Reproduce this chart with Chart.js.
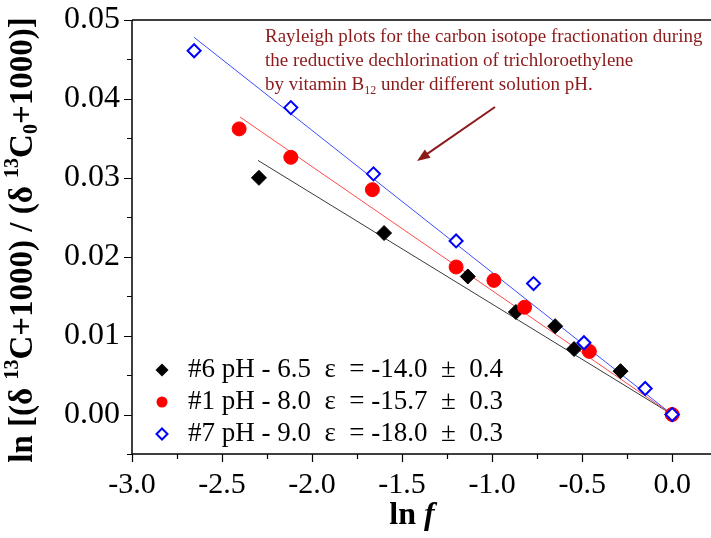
<!DOCTYPE html>
<html>
<head>
<meta charset="utf-8">
<script src="https://cdn.jsdelivr.net/npm/chart.js@4.4.1/dist/chart.umd.min.js"></script>
<style>
html,body{margin:0;padding:0;background:#fff;overflow:hidden;}
canvas{display:block;}
</style>
</head>
<body>
<canvas id="c" width="711" height="538"></canvas>
<script>
// ---- data ----
const xTickValues = [-3.0, -2.5, -2.0, -1.5, -1.0, -0.5, 0.0];
const yTickValues = [0.00, 0.01, 0.02, 0.03, 0.04, 0.05];

// #6 pH 6.5 (black diamonds)
const lnF6 = [-2.295, -1.600, -1.135, -0.868, -0.650, -0.545, -0.287, 0.0];
const lnR6 = [0.0300, 0.0230, 0.0175, 0.0130, 0.0112, 0.0083, 0.0055, 0.0];
// #1 pH 8.0 (red circles)
const lnF1 = [-2.405, -2.118, -1.665, -1.200, -0.990, -0.820, -0.460, 0.0];
const lnR1 = [0.0362, 0.0326, 0.0285, 0.0187, 0.0170, 0.0136, 0.0080, 0.0];
// #7 pH 9.0 (blue open diamonds)
const lnF7 = [-2.655, -2.118, -1.659, -1.200, -0.770, -0.490, -0.150, 0.0];
const lnR7 = [0.0461, 0.0389, 0.0305, 0.0220, 0.0166, 0.0091, 0.0033, 0.0];

// fitted Rayleigh lines (end points)
const fit6X = [-2.30, 0.0];  const fit6Y = [0.0322, 0.0];
const fit1X = [-2.40, 0.0];  const fit1Y = [0.0377, 0.0];
const fit7X = [-2.655, 0.0]; const fit7Y = [0.0478, 0.0];

const seriesLabels = [
  '#6 pH - 6.5  \u03b5  = -14.0  \u00b1  0.4',
  '#1 pH - 8.0  \u03b5  = -15.7  \u00b1  0.3',
  '#7 pH - 9.0  \u03b5  = -18.0  \u00b1  0.3'
];
const noteLines = [
  'Rayleigh plots for the carbon isotope fractionation during',
  'the reductive dechlorination of trichloroethylene',
  'by vitamin B'
];
const noteSub = '12';
const noteTail = ' under different solution pH.';

function zip(xs, ys){ return xs.map((x,i)=>({x:x, y:ys[i]})); }

const SERIF = "'Liberation Serif', 'Times New Roman', serif";
const NOTE_COLOR = '#8b1a1a';

function richText(ctx, segs, x, y, align){
  let total = 0;
  segs.forEach(s=>{ ctx.font = s.font; s.w = ctx.measureText(s.t).width; total += s.w; });
  let cx = align === 'center' ? x - total/2 : x;
  segs.forEach(s=>{ ctx.font = s.font; ctx.fillText(s.t, cx, y + (s.dy||0)); cx += s.w; });
}

const decor = {
  id:'decor',
  afterDraw(chart){
    const ctx = chart.ctx;
    const a = chart.chartArea;
    const xs = chart.scales.x, ys = chart.scales.y;
    ctx.save();
    // frame
    ctx.strokeStyle = '#000';
    ctx.lineWidth = 1.5;
    ctx.beginPath();
    ctx.moveTo(a.left, a.top); ctx.lineTo(a.right+2, a.top);
    ctx.moveTo(a.left, a.top); ctx.lineTo(a.left, a.bottom);
    ctx.moveTo(a.left, a.bottom); ctx.lineTo(a.right+2, a.bottom);
    ctx.stroke();
    // ticks
    ctx.lineWidth = 1.2;
    ctx.beginPath();
    for (let v = -3.0; v <= 0.001; v += 0.25){
      const px = Math.round(xs.getPixelForValue(v)) + 0.5;
      const major = Math.abs(v*2 - Math.round(v*2)) < 1e-6;
      ctx.moveTo(px, a.bottom); ctx.lineTo(px, a.bottom + (major ? 8 : 5));
    }
    for (let k = -1; k <= 10; k++){
      const v = k*0.005;
      const py = Math.round(ys.getPixelForValue(v)) + 0.5;
      const major = k % 2 === 0;
      ctx.moveTo(a.left, py); ctx.lineTo(a.left - (major ? 8 : 5), py);
    }
    ctx.stroke();

    // axis titles
    ctx.fillStyle = '#000';
    ctx.textBaseline = 'middle';
    const B = 'bold 33px ' + SERIF, BS = 'bold 20px ' + SERIF;
    ctx.save();
    ctx.translate(23, 240);
    ctx.rotate(-Math.PI/2);
    richText(ctx, [
      {t:'ln [(\u03b4 ', font:B},
      {t:'13', font:BS, dy:-10},
      {t:'C+1000) / (\u03b4 ', font:B},
      {t:'13', font:BS, dy:-10},
      {t:'C', font:B},
      {t:'0', font:BS, dy:9},
      {t:'+1000)]', font:B}
    ], 0, 0, 'center');
    ctx.restore();
    richText(ctx, [
      {t:'ln ', font:'bold 32px ' + SERIF},
      {t:'f', font:'italic bold 32px ' + SERIF}
    ], 412, 516, 'center');

    // legend
    const legY = [370, 402, 434];
    const mx = 162;
    ctx.fillStyle = '#000';
    ctx.beginPath();
    ctx.moveTo(mx, legY[0]-6.5); ctx.lineTo(mx+6.5, legY[0]); ctx.lineTo(mx, legY[0]+6.5); ctx.lineTo(mx-6.5, legY[0]); ctx.closePath();
    ctx.fill();
    ctx.fillStyle = '#ff0000';
    ctx.beginPath(); ctx.arc(mx, legY[1], 5.5, 0, Math.PI*2); ctx.fill();
    ctx.strokeStyle = '#0000ff'; ctx.lineWidth = 2;
    ctx.beginPath();
    ctx.moveTo(mx, legY[2]-5.5); ctx.lineTo(mx+5.5, legY[2]); ctx.lineTo(mx, legY[2]+5.5); ctx.lineTo(mx-5.5, legY[2]); ctx.closePath();
    ctx.stroke();
    ctx.fillStyle = '#000';
    ctx.font = '27px ' + SERIF;
    ctx.textAlign = 'left';
    seriesLabels.forEach((t,i)=>{ ctx.fillText(t, 188, legY[i]); });

    // annotation
    ctx.fillStyle = NOTE_COLOR;
    ctx.font = '19px ' + SERIF;
    ctx.textBaseline = 'alphabetic';
    ctx.fillText(noteLines[0], 265, 42);
    ctx.fillText(noteLines[1], 265, 66);
    richText(ctx, [
      {t:noteLines[2], font:'19px ' + SERIF},
      {t:noteSub, font:'12px ' + SERIF, dy:4},
      {t:noteTail, font:'19px ' + SERIF}
    ], 265, 90, 'left');

    // arrow
    const x0 = 495, y0 = 107, x1 = 417, y1 = 161;
    const ang = Math.atan2(y1-y0, x1-x0);
    ctx.strokeStyle = NOTE_COLOR; ctx.lineWidth = 2;
    ctx.beginPath();
    ctx.moveTo(x0, y0);
    ctx.lineTo(x1 - 8*Math.cos(ang), y1 - 8*Math.sin(ang));
    ctx.stroke();
    ctx.fillStyle = NOTE_COLOR;
    ctx.beginPath();
    ctx.moveTo(x1, y1);
    ctx.lineTo(x1 - 13*Math.cos(ang) + 5*Math.sin(ang), y1 - 13*Math.sin(ang) - 5*Math.cos(ang));
    ctx.lineTo(x1 - 13*Math.cos(ang) - 5*Math.sin(ang), y1 - 13*Math.sin(ang) + 5*Math.cos(ang));
    ctx.closePath();
    ctx.fill();
    ctx.restore();
  }
};

new Chart(document.getElementById('c').getContext('2d'), {
  type: 'scatter',
  data: {
    datasets: [
      {label:'fit #6', data: zip(fit6X, fit6Y), showLine:true, borderColor:'#3a3a3a', borderWidth:1, pointRadius:0, order:6},
      {label:'fit #1', data: zip(fit1X, fit1Y), showLine:true, borderColor:'#ff4a4a', borderWidth:1, pointRadius:0, order:5},
      {label:'fit #7', data: zip(fit7X, fit7Y), showLine:true, borderColor:'#3b4cff', borderWidth:1, pointRadius:0, order:4},
      {label:seriesLabels[0], data: zip(lnF6, lnR6), pointStyle:'rectRot', pointRadius:7.5, backgroundColor:'#000', borderColor:'#000', borderWidth:1, order:3},
      {label:seriesLabels[1], data: zip(lnF1, lnR1), pointStyle:'circle', pointRadius:7, backgroundColor:'#ff0000', borderColor:'#ff0000', borderWidth:1, order:2},
      {label:seriesLabels[2], data: zip(lnF7, lnR7), pointStyle:'rectRot', pointRadius:6.5, backgroundColor:'#ffffff', borderColor:'#0000ff', borderWidth:2, order:1}
    ]
  },
  options: {
    responsive:false,
    animation:false,
    devicePixelRatio:1,
    layout:{autoPadding:false, padding:{top:20, right:1, left:0, bottom:0}},
    plugins:{legend:{display:false}, tooltip:{enabled:false}},
    scales:{
      x:{
        type:'linear', min:-3.0, max:0.21,
        afterBuildTicks:(s)=>{ s.ticks = xTickValues.map(v=>({value:v})); },
        afterFit:(s)=>{ s.height = 84; s.paddingLeft = 0; s.paddingRight = 0; },
        grid:{display:true, drawOnChartArea:false, drawTicks:false},
        border:{display:false},
        ticks:{font:{family:SERIF, size:30}, color:'#000', padding:13, maxRotation:0, autoSkip:false,
               callback:(v)=>Number(v).toFixed(1)}
      },
      y:{
        type:'linear', min:-0.005, max:0.05,
        afterBuildTicks:(s)=>{ s.ticks = yTickValues.map(v=>({value:v})); },
        afterFit:(s)=>{ s.width = 132; s.paddingTop = 0; s.paddingBottom = 0; },
        grid:{display:true, drawOnChartArea:false, drawTicks:false},
        border:{display:false},
        ticks:{font:{family:SERIF, size:32}, color:'#000', padding:12, autoSkip:false,
               callback:(v)=>Number(v).toFixed(2)}
      }
    }
  },
  plugins:[decor]
});
</script>
</body>
</html>
